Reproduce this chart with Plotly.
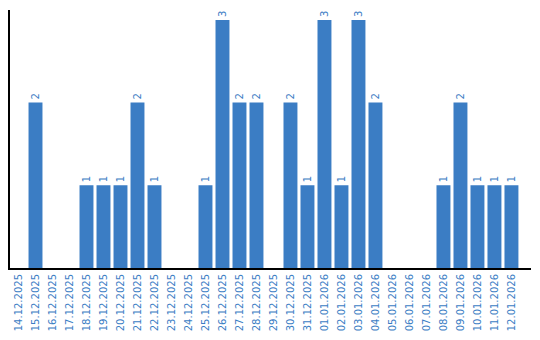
import plotly.graph_objects as go

dates = ["14.12.2025", "15.12.2025", "16.12.2025", "17.12.2025", "18.12.2025", "19.12.2025",
         "20.12.2025", "21.12.2025", "22.12.2025", "23.12.2025", "24.12.2025", "25.12.2025",
         "26.12.2025", "27.12.2025", "28.12.2025", "29.12.2025", "30.12.2025", "31.12.2025",
         "01.01.2026", "02.01.2026", "03.01.2026", "04.01.2026", "05.01.2026", "06.01.2026",
         "07.01.2026", "08.01.2026", "09.01.2026", "10.01.2026", "11.01.2026", "12.01.2026"]
counts = [0, 2, 0, 0, 1, 1, 1, 2, 1, 0, 0, 1, 3, 2, 2, 0, 2, 1, 3, 1, 3, 2, 0, 0, 0, 1, 2, 1, 1, 1]

color = "#3b7dc4"
labels = [str(v) if v else "" for v in counts]

fig = go.Figure(go.Bar(
    x=dates, y=counts, marker_color=color, marker_line_width=0,
    text=labels, textposition="outside", textangle=-90,
    textfont=dict(family="DejaVu Sans", size=10, color=color),
    cliponaxis=False,
))
fig.update_layout(
    width=540, height=340, margin=dict(l=10, r=9, t=10, b=70),
    plot_bgcolor="white", paper_bgcolor="white", bargap=0.18,
    showlegend=False,
    font=dict(family="DejaVu Sans", size=10, color=color),
)
fig.update_xaxes(type="category", range=[-0.5, len(dates) - 0.5 + 0.65], tickangle=-90,
                 showline=True, linecolor="black", linewidth=2,
                 ticks="", showgrid=False, tickfont=dict(size=10, color=color))
fig.update_yaxes(range=[0, 3.12], showline=True, linecolor="black", linewidth=2,
                 showticklabels=False, showgrid=False, zeroline=False, ticks="")
fig.write_html("out.html")
